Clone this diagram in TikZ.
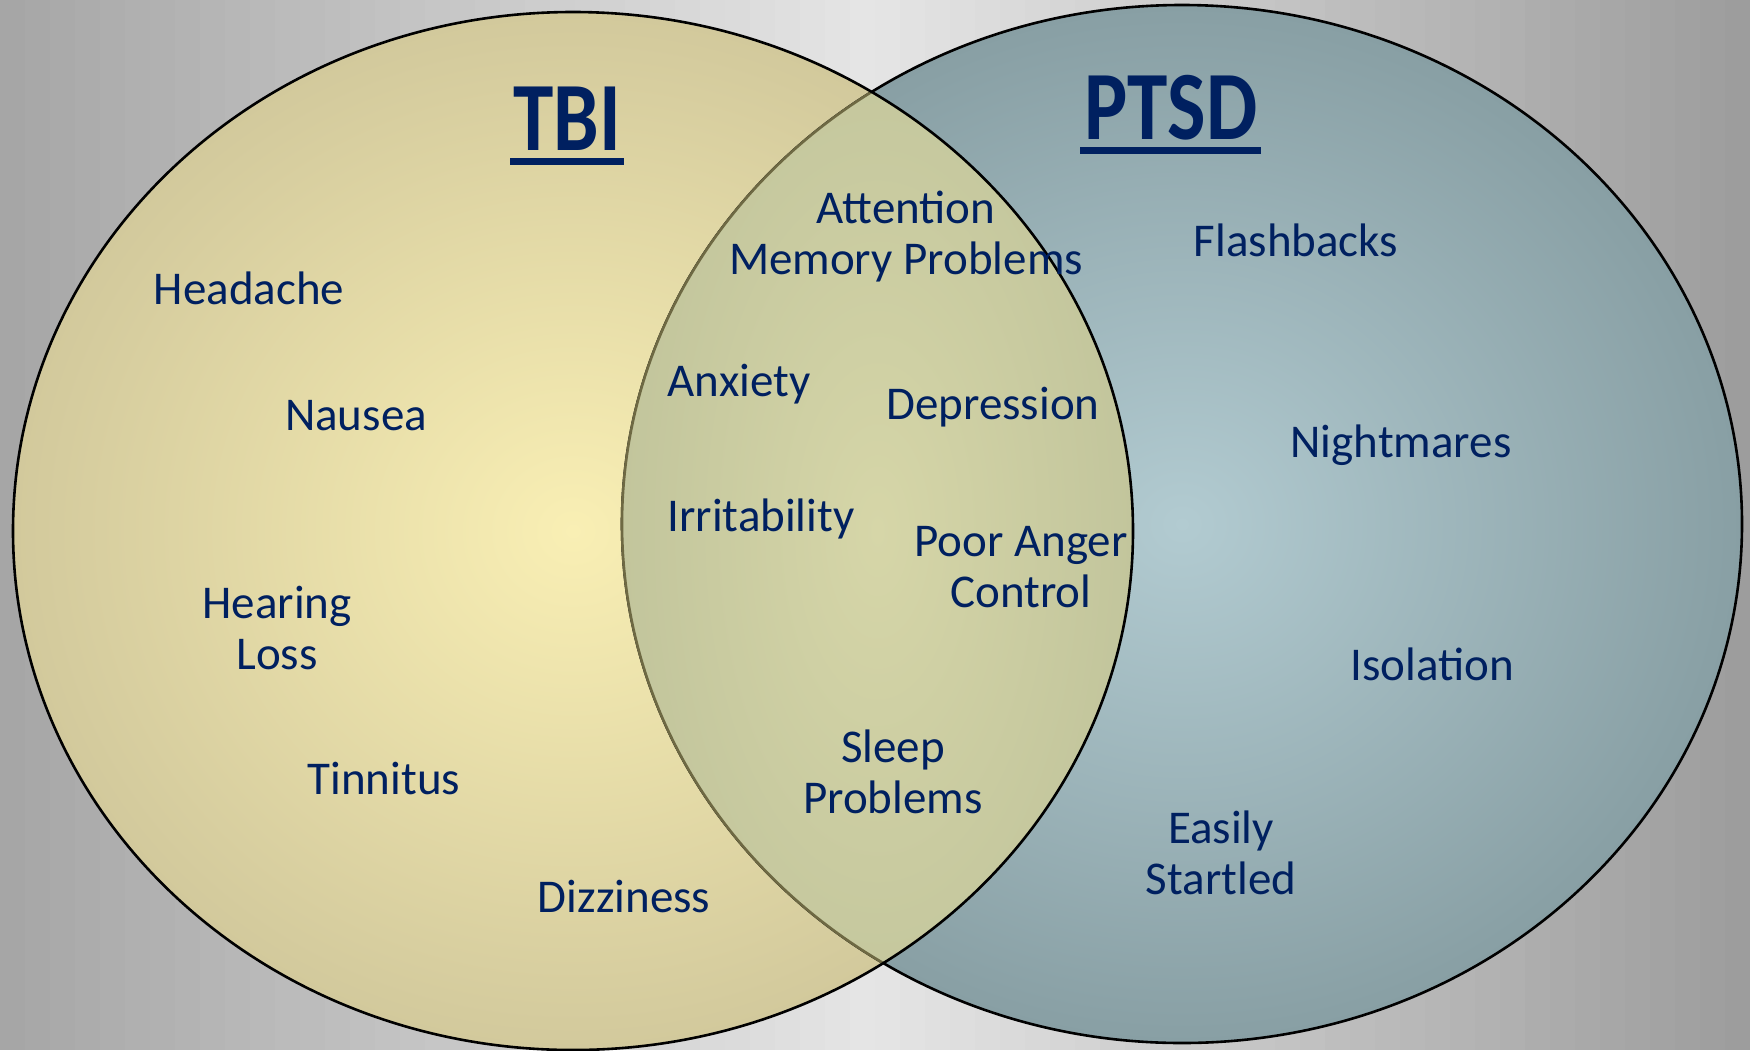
\documentclass[tikz,border=0pt]{standalone}
\usepackage{fontspec}
\usepackage{graphicx}
\setmainfont{Carlito}
\usetikzlibrary{positioning}
\definecolor{navy}{HTML}{002060}
\definecolor{rimolive}{HTML}{6E6943}
\tikzset{
    vennsize/.style={x radius=560, y radius=519},
    rim/.style={draw=black, line width=2.6},
    tbifill/.style={inner color={rgb,255:red,249;green,239;blue,180}, outer color={rgb,255:red,210;green,201;blue,156}},
    ptsdfill/.style={inner color={rgb,255:red,178;green,203;blue,209}, outer color={rgb,255:red,136;green,159;blue,164}},
    bothfill/.style={inner color={rgb,255:red,214;green,214;blue,168}, outer color={rgb,255:red,194;green,197;blue,156}},
    lbl/.style={text=navy, font=\fontsize{47}{51}\selectfont, align=center, inner sep=0pt},
    heading/.style={text=navy, font=\fontsize{98}{100}\selectfont\bfseries, inner sep=0pt, anchor=base},
    underbar/.style={navy, line width=7}
}
\begin{document}
\begin{tikzpicture}[x=1pt, y=-1pt]
    \useasboundingbox (0,0) rectangle (1750,1050);
    \clip (0,0) rectangle (1750,1050);
    \foreach \i in {0,...,69}{
        \pgfmathtruncatemacro\g{\i<35 ? 166+64*(\i+0.5)/35 : 230-74*(\i-34.5)/35}
        \definecolor{strip}{RGB}{\g,\g,\g}
        \fill[strip] (\i*25,0) rectangle (\i*25+26,1050);
    }

    \coordinate (tbic) at (573,531);
    \coordinate (ptsdc) at (1182,524);
    \shade[tbifill] (tbic) ellipse [vennsize];
    \shade[ptsdfill] (ptsdc) ellipse [vennsize];
    \draw[rim] (ptsdc) ellipse [vennsize];
    \begin{scope}
        \clip (tbic) ellipse [vennsize];
        \clip (ptsdc) ellipse [vennsize];
        \shade[bothfill] (622,12) rectangle (1133,1050);
    \end{scope}
    \begin{scope}
        \clip (tbic) ellipse [vennsize];
        \draw[rim, draw=rimolive] (ptsdc) ellipse [vennsize];
    \end{scope}
    \draw[rim] (tbic) ellipse [vennsize];

    \node[heading] (tbi) at (567,150) {\scalebox{0.83}[1]{TBI}};
    \node[heading] (ptsd) at (1171,139) {\scalebox{0.83}[1]{PTSD}};
    \draw[underbar] ([xshift=-3pt, yshift=-11pt]tbi.base west) -- ([xshift=3pt, yshift=-11pt]tbi.base east);
    \draw[underbar] ([xshift=-4pt, yshift=-11pt]ptsd.base west) -- ([xshift=3pt, yshift=-11pt]ptsd.base east);

    \node[lbl] (headache) at (249,288) {Headache};
    \node[lbl] (nausea) at (356,416) {Nausea};
    \node[lbl] (hearing) at (277,628) {Hearing\\Loss};
    \node[lbl] (tinnitus) at (384,778) {Tinnitus};
    \node[lbl] (dizziness) at (624,896) {Dizziness};

    \node[lbl] (attention) at (906,237) {Attention\\Memory Problems};
    \node[lbl] (anxiety) at (739,384) {Anxiety};
    \node[lbl] (depression) at (993,407) {Depression};
    \node[lbl] (irritability) at (761,519) {Irritability};
    \node[lbl] (anger) at (1021,567) {Poor Anger\\Control};
    \node[lbl] (sleep) at (893,772) {Sleep\\Problems};

    \node[lbl] (flashbacks) at (1296,240) {Flashbacks};
    \node[lbl] (nightmares) at (1401,445) {Nightmares};
    \node[lbl] (isolation) at (1432,664) {Isolation};
    \node[lbl] (startled) at (1221,853) {Easily\\Startled};
\end{tikzpicture}
\end{document}
